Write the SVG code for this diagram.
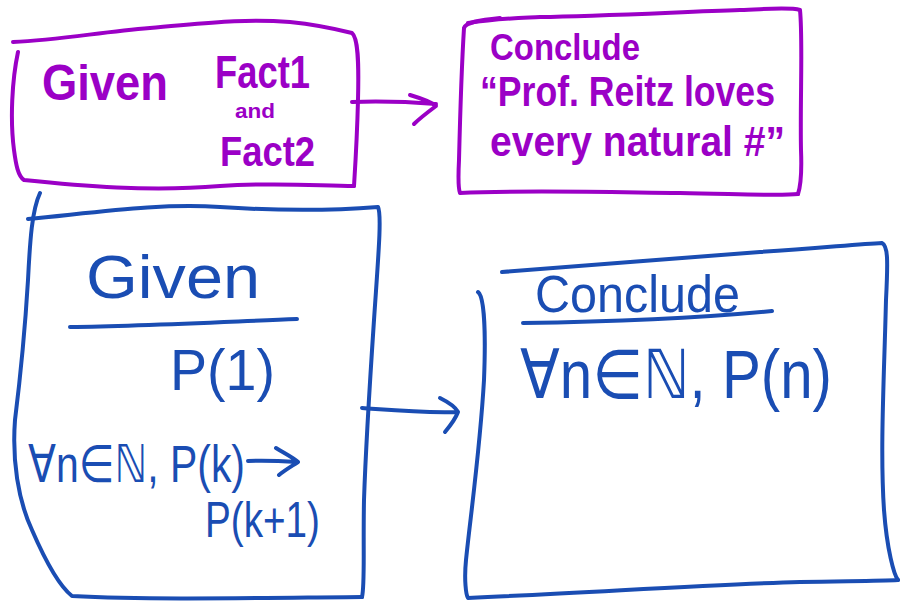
<svg xmlns="http://www.w3.org/2000/svg" width="900" height="601" viewBox="0 0 900 601">
  <style>
    .ink { fill: none; stroke-linecap: round; stroke-linejoin: round; }
    .purple { stroke: #9b00c6; stroke-width: 4; }
    .blue { stroke: #1a4db3; stroke-width: 4; }
    .txt { font-family: "Liberation Sans", "DejaVu Sans", sans-serif; }
    .tp { fill: #9b00c6; font-weight: bold; }
    .tb { fill: #1a4db3; }
  </style>
  <rect width="900" height="601" fill="#ffffff"/>

  <!-- Top-left: premises box -->
  <g id="given-facts">
    <path class="ink purple" d="M13,42 C60,40 100,32 150,28 C200,24 240,18 290,22 C320,25 340,30 352,33 C358,38 359,60 358,100 C357,140 355,170 354,186"/>
    <path class="ink purple" d="M18,52 C12,80 10,120 14,150 C16,165 18,176 24,180 C80,186 150,192 220,186 C280,182 320,186 354,186"/>
    <text class="txt tp" x="42" y="100" font-size="50" textLength="126" lengthAdjust="spacingAndGlyphs">Given</text>
    <text class="txt tp" x="215" y="88" font-size="46" textLength="95" lengthAdjust="spacingAndGlyphs">Fact1</text>
    <text class="txt tp" x="235" y="118" font-size="20" textLength="40" lengthAdjust="spacingAndGlyphs">and</text>
    <text class="txt tp" x="220" y="166" font-size="42" textLength="95" lengthAdjust="spacingAndGlyphs">Fact2</text>
  </g>

  <!-- Top-right: conclusion box -->
  <g id="conclude-reitz">
    <path class="ink purple" d="M468,23 C500,18 520,18 540,17 C600,16 680,12 740,10 C770,9 790,7 800,10 C803,40 800,100 801,150 C802,175 800,188 798,194"/>
    <path class="ink purple" d="M500,18 C480,20 466,22 464,28 C462,60 460,120 459,160 C458,180 458,188 460,193 C520,190 600,192 680,193 C740,194 780,196 798,194"/>
    <text class="txt tp" x="490" y="60" font-size="36" textLength="150" lengthAdjust="spacingAndGlyphs">Conclude</text>
    <text class="txt tp" x="480" y="106" font-size="42" textLength="295" lengthAdjust="spacingAndGlyphs">“Prof. Reitz loves</text>
    <text class="txt tp" x="490" y="156" font-size="42" textLength="295" lengthAdjust="spacingAndGlyphs">every natural #”</text>
  </g>

  <!-- Bottom-left: induction hypotheses box -->
  <g id="given-induction">
    <path class="ink blue" d="M28,219 C100,212 160,203 220,207 C280,211 340,210 378,207 C382,215 378,260 374,320 C370,380 366,440 364,500 C363,550 365,585 362,597"/>
    <path class="ink blue" d="M40,193 C32,210 30,240 28,280 C25,330 20,380 15,420 C12,460 18,500 32,530 C45,560 58,585 72,596 C150,600 250,598 362,597"/>
    <text class="txt tb" x="86" y="298" font-size="62" textLength="174" lengthAdjust="spacingAndGlyphs">Given</text>
    <path class="ink blue" d="M70,327 C140,326 220,322 297,319" stroke-width="7"/>
    <text class="txt tb" x="170" y="390" font-size="58" textLength="105" lengthAdjust="spacingAndGlyphs">P(1)</text>
    <text class="txt tb" x="28" y="482" font-size="52" textLength="217" lengthAdjust="spacingAndGlyphs">∀n∈ℕ, P(k)</text>
    <path class="ink blue" d="M248,461 C265,460 282,461 298,462 M276,448 C286,454 294,458 298,462 C292,466 285,470 279,475" stroke-width="5"/>
    <text class="txt tb" x="205" y="537" font-size="50" textLength="115" lengthAdjust="spacingAndGlyphs">P(k+1)</text>
  </g>

  <!-- Bottom-right: induction conclusion box -->
  <g id="conclude-induction">
    <path class="ink blue" d="M502,272 C580,266 680,258 760,252 C820,248 860,244 882,243 C888,246 888,260 886,300 C884,380 880,450 884,510 C887,550 894,575 898,580"/>
    <path class="ink blue" d="M478,292 C484,296 486,330 484,380 C480,450 470,520 466,560 C464,580 466,595 468,598 C600,592 720,584 800,582 C850,581 880,581 898,580"/>
    <text class="txt tb" x="535" y="312" font-size="52" textLength="205" lengthAdjust="spacingAndGlyphs">Conclude</text>
    <path class="ink blue" d="M523,323 C600,322 700,318 772,311"/>
    <text class="txt tb" x="520" y="398" font-size="68" textLength="312" lengthAdjust="spacingAndGlyphs">∀n∈ℕ, P(n)</text>
  </g>

  <!-- Connectors -->
  <g id="connectors">
    <path class="ink purple" d="M352,102 C380,101 410,102 436,104 M410,95 C420,98 430,101 436,106 C428,112 420,118 414,124"/>
    <path class="ink blue" d="M362,408 C390,410 420,413 456,412 M440,398 C448,402 455,406 458,412 C455,420 450,426 445,432"/>
  </g>
</svg>
